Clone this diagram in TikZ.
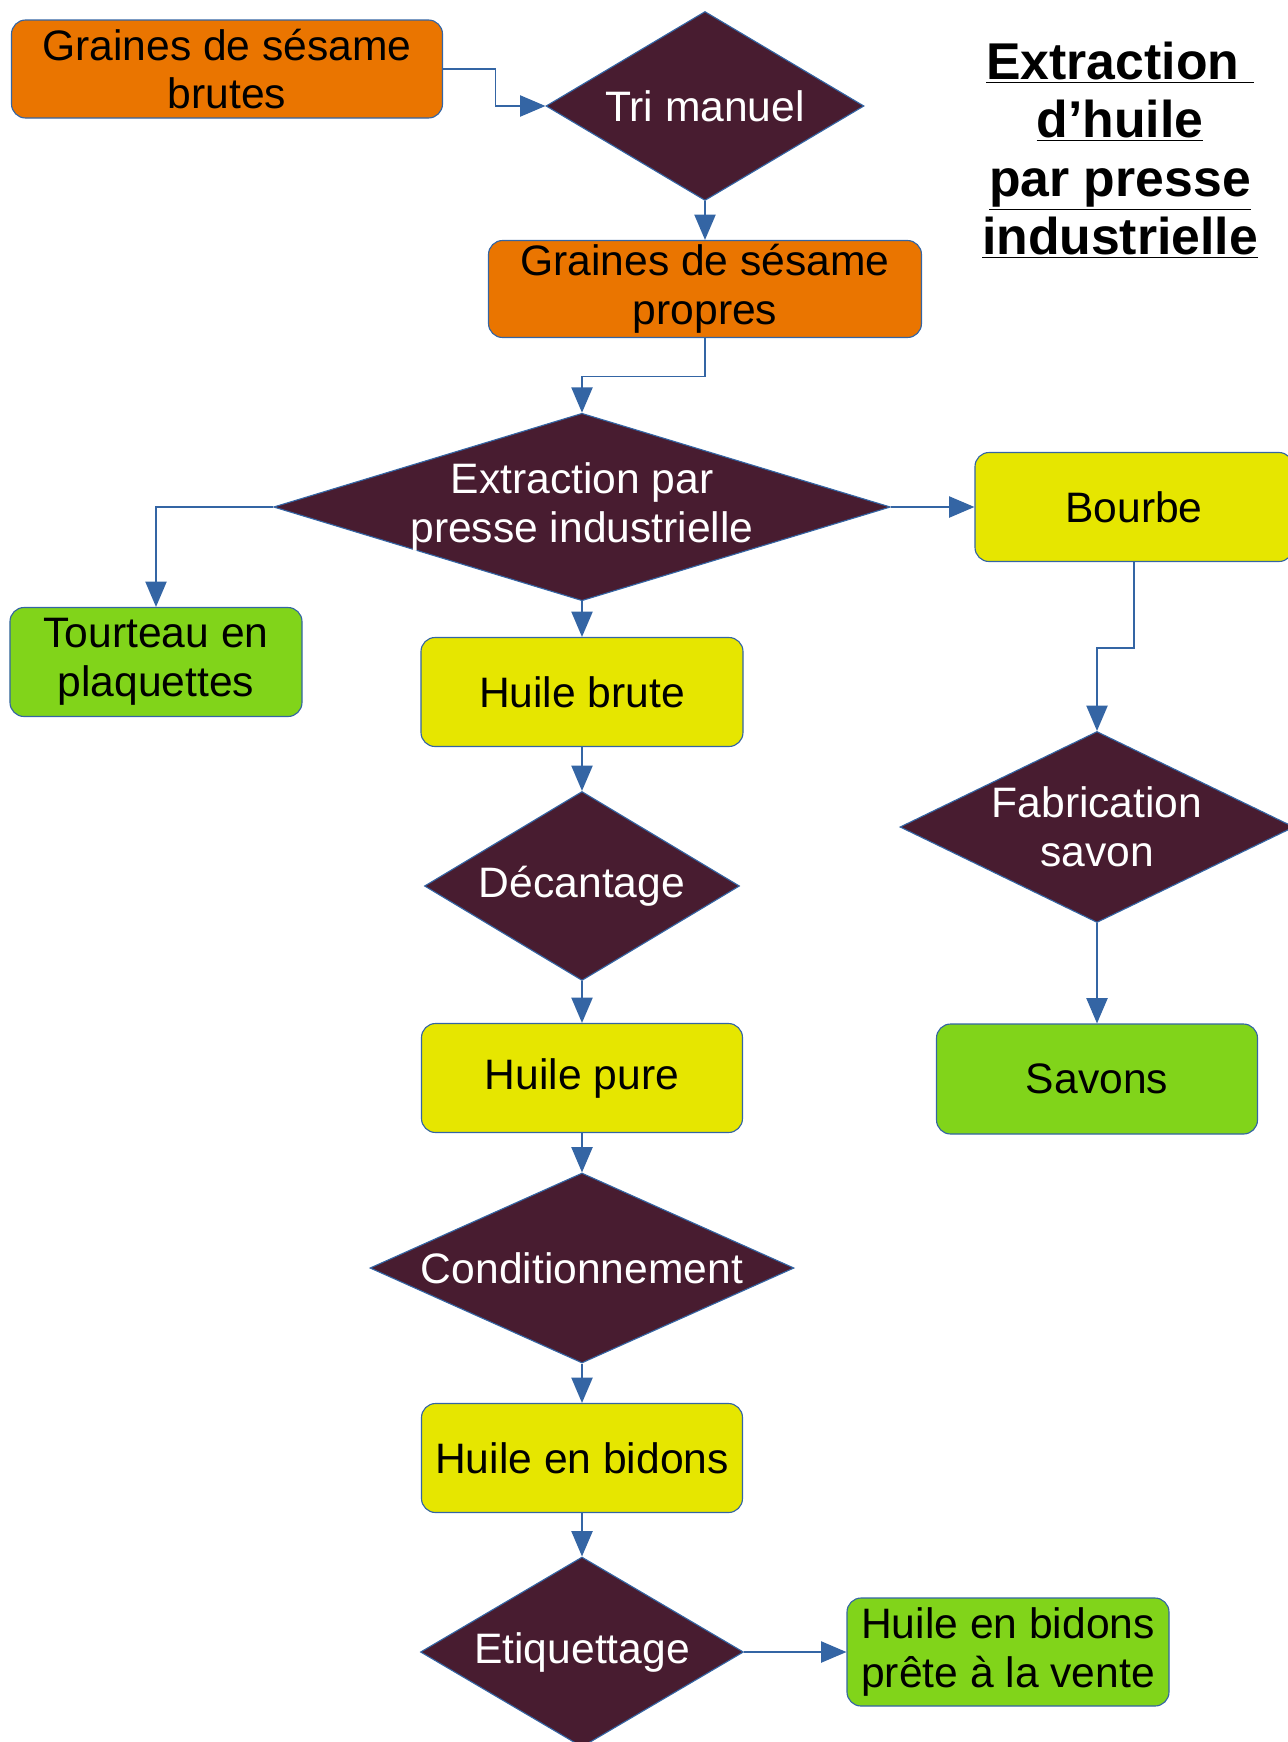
\documentclass[tikz,border=0pt]{standalone}
\usepackage{fontspec}
\setmainfont{Liberation Sans}
\usetikzlibrary{shapes.geometric,arrows.meta}
\definecolor{orangebox}{RGB}{234,117,0}
\definecolor{yellowbox}{RGB}{230,230,0}
\definecolor{greenbox}{RGB}{129,212,26}
\definecolor{wine}{RGB}{72,28,48}
\definecolor{linkblue}{RGB}{52,101,164}
\tikzset{
  rbox/.style={rectangle, draw=linkblue, line width=0.8pt, rounded corners=10pt,
               inner sep=0pt, minimum width=8.025cm, minimum height=2.725cm,
               align=center, font=\fontsize{30.3}{34.8}\selectfont},
  obox/.style={rbox, fill=orangebox, minimum height=2.45cm},
  ybox/.style={rbox, fill=yellowbox},
  gbox/.style={rbox, fill=greenbox},
  dia/.style={diamond, draw=linkblue, line width=0.8pt, fill=wine, text=white,
              inner sep=0pt, align=center, font=\fontsize{30.3}{34.8}\selectfont},
  arr/.style={-{Triangle[length=18pt,width=15pt]}, line width=1.3pt, color=linkblue},
}
\begin{document}
\begin{tikzpicture}
    \useasboundingbox (0,0) rectangle (32.175,-43.55);
    % main line
    \node[obox, minimum width=10.775cm] (brutes) at (5.675,-1.725) {Graines de sésame\\brutes};
    \node[dia, minimum width=7.95cm, minimum height=4.725cm, aspect=1.68] (tri) at (17.625,-2.65) {Tri manuel};
    \node[obox, minimum width=10.825cm, minimum height=2.425cm] (propres) at (17.625,-7.225) {Graines de sésame\\propres};
    \node[dia, minimum width=15.375cm, minimum height=4.675cm, aspect=3.29, inner sep=-1.5pt] (extraction) at (14.55,-12.675) {Extraction par\\presse industrielle};
    \node[ybox, minimum width=8.05cm] (brute) at (14.55,-17.3) {Huile brute};
    \node[dia, minimum width=7.875cm, minimum height=4.725cm, aspect=1.67] (decant) at (14.55,-22.15) {Décantage};
    \node[ybox] (pure) at (14.55,-26.95) {Huile pure};
    \node[dia, minimum width=10.6cm, minimum height=4.75cm, aspect=2.23] (cond) at (14.55,-31.7) {Conditionnement};
    \node[ybox] (bidons) at (14.55,-36.45) {Huile en bidons};
    \node[dia, minimum width=8.075cm, minimum height=4.75cm, aspect=1.7] (etiq) at (14.55,-41.3) {Etiquettage};
    \node[gbox, minimum width=8.05cm, minimum height=2.7cm] (vente) at (25.2,-41.3) {Huile en bidons\\prête à la vente};
    % sous-produits
    \node[gbox, minimum width=7.3cm] (tourteau) at (3.9,-16.55) {Tourteau en\\plaquettes};
    \node[ybox, minimum width=7.95cm] (bourbe) at (28.35,-12.675) {Bourbe};
    \node[dia, minimum width=9.85cm, minimum height=4.775cm, aspect=2.06] (savon) at (27.425,-20.675) {Fabrication\\savon};
    \node[gbox, minimum height=2.75cm] (savons) at (27.425,-26.975) {Savons};
    % titre
    \node[align=center, font=\fontsize{36.8}{41.5}\selectfont\bfseries] (titre) at (28.0,-3.75)
      {\underline{Extraction\ }\\\underline{d’huile}\\\underline{par presse}\\\underline{industrielle}};

    \draw[arr] (brutes.east) -- ++(1.31,0) |- (tri.west);
    \draw[arr] (tri.south) -- (propres.north);
    \draw[arr] (propres.south) -- ++(0,-0.96) -| (extraction.north);
    \draw[arr] (extraction.east) -- (bourbe.west);
    \draw[arr] (extraction.west) -| (tourteau.north);
    \draw[arr] (extraction.south) -- (brute.north);
    \draw[arr] (brute.south) -- (decant.north);
    \draw[arr] (decant.south) -- (pure.north);
    \draw[arr] (pure.south) -- (cond.north);
    \draw[arr] (cond.south) -- (bidons.north);
    \draw[arr] (bidons.south) -- (etiq.north);
    \draw[arr] (etiq.east) -- (vente.west);
    \draw[arr] (bourbe.south) -- ++(0,-2.14) -| (savon.north);
    \draw[arr] (savon.south) -- (savons.north);
  \end{tikzpicture}
\end{document}
